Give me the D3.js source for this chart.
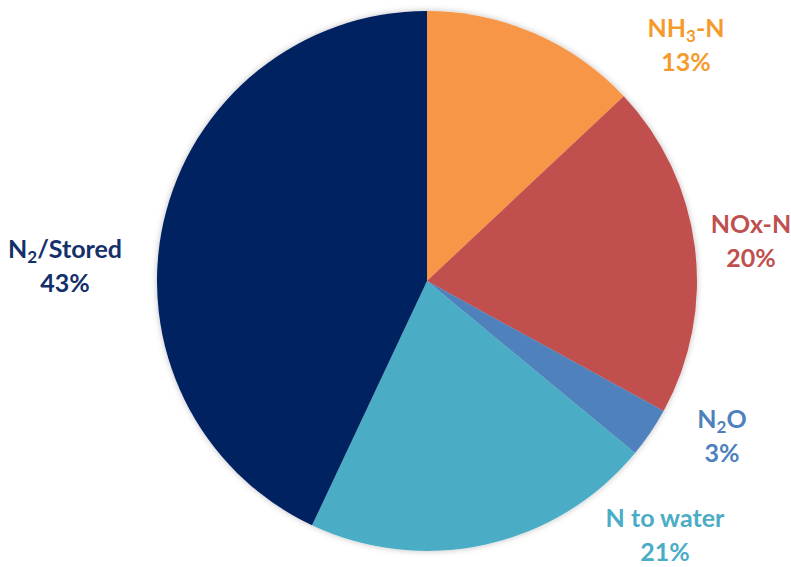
<!DOCTYPE html>
<html>
<head>
    <meta charset="utf-8">
    <title>Nitrogen fate</title>
    <script src="https://d3js.org/d3.v7.min.js"></script>
    <style>
        * { margin: 0; padding: 0; }
        body { background: #fff; }
        text { font-family: Lato, "Open Sans", sans-serif; font-weight: bold; font-size: 25px; }
    </style>
</head>
<body>
<script>
    var categories = ["NH3-N", "NOx-N", "N2O", "N to water", "N2/Stored"];
    var values = [13, 20, 3, 21, 43];
    var percentLabels = ["13%", "20%", "3%", "21%", "43%"];
    var fills = ["#F79646", "#C0504D", "#4F81BD", "#4BACC6", "#002060"];
    var textColors = ["#F59B2E", "#C0504D", "#4F81BD", "#4BACC6", "#13306B"];
    // label name parts: [before subscript, subscript, after]
    var nameParts = [["NH", "3", "-N"], ["NOx-N", "", ""], ["N", "2", "O"], ["N to water", "", ""], ["N", "2", "/Stored"]];
    var labelPos = [[686, 37], [751, 233], [722, 428], [665, 527], [65, 258]];

    var width = 791, height = 567;
    var cx = 427, cy = 281, radius = 270;

    var svg = d3.select("body").append("svg").attr("width", width).attr("height", height);

    var defs = svg.append("defs");
    var shadow = defs.append("filter").attr("id", "shadow").attr("x", "-10%").attr("y", "-10%").attr("width", "120%").attr("height", "120%");
    shadow.append("feDropShadow").attr("dx", 0).attr("dy", 0).attr("stdDeviation", 3).attr("flood-color", "#000").attr("flood-opacity", 0.25);

    var pie = d3.pie().sort(null).value(function (d) { return d; });
    var arc = d3.arc().innerRadius(0).outerRadius(radius);

    var g = svg.append("g").attr("transform", "translate(" + cx + "," + cy + ")").attr("filter", "url(#shadow)");
    g.selectAll("path")
        .data(pie(values))
        .enter().append("path")
        .attr("d", arc)
        .attr("fill", function (d, i) { return fills[i]; });

    var labels = svg.append("g");
    categories.forEach(function (c, i) {
        var p = labelPos[i];
        var t = labels.append("text")
            .attr("x", p[0]).attr("y", p[1])
            .attr("text-anchor", "middle")
            .attr("fill", textColors[i]);
        var parts = nameParts[i];
        t.append("tspan").text(parts[0]);
        if (parts[1]) {
            t.append("tspan").attr("dy", 5).style("font-size", "17px").text(parts[1]);
            t.append("tspan").attr("dy", -5).text(parts[2]);
        }
        labels.append("text")
            .attr("x", p[0]).attr("y", p[1] + 34)
            .attr("text-anchor", "middle")
            .attr("fill", textColors[i])
            .text(percentLabels[i]);
    });
</script>
</body>
</html>
